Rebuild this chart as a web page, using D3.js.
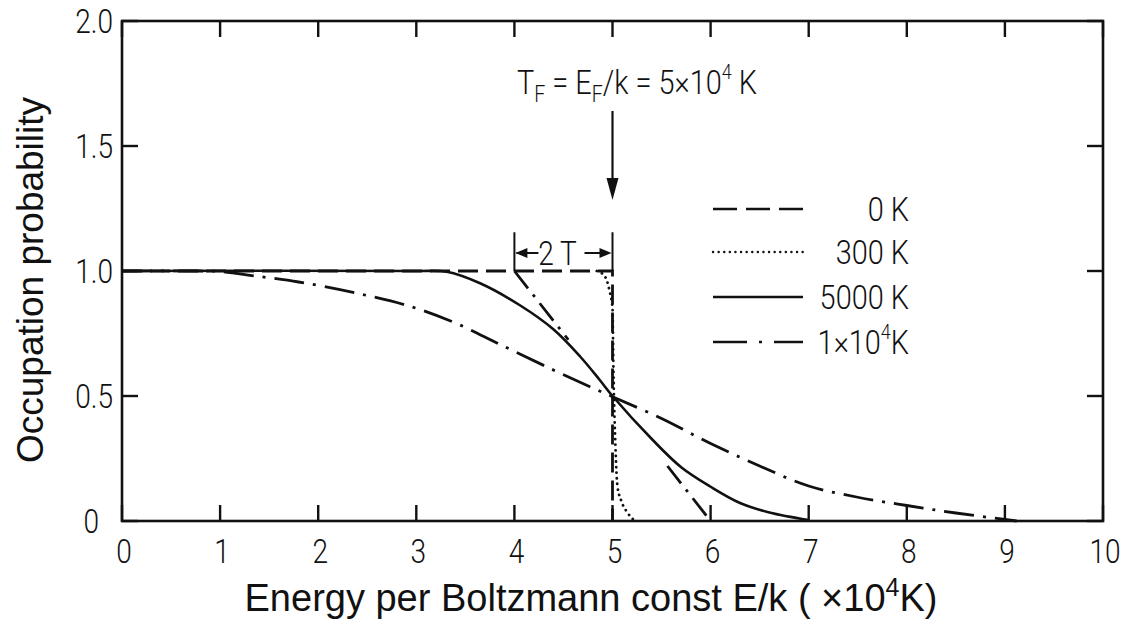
<!DOCTYPE html>
<html><head><meta charset="utf-8">
<script src="https://cdn.jsdelivr.net/npm/d3@7"></script>
<style>
body{margin:0;background:#fff;}
svg{display:block;}
.din{font-family:Roboto,"DejaVu Sans",sans-serif;font-weight:300;fill:#111;}
</style></head>
<body><svg id="c" width="1126" height="627"></svg>
<script>
// ---- data ----
const xTicks = [0,1,2,3,4,5,6,7,8,9,10];
const xTickLabels = ["0","1","2","3","4","5","6","7","8","9","10"];
const yTicks = [0,0.5,1.0,1.5,2.0];
const yTickLabels = ["0","0.5","1.0","1.5","2.0"];
const seriesNames = ["0 K","300 K","5000 K","1×10⁴K"];
const curve0K = [[0,1],[5,1],[5,0]];
const curve300K = [[4.84,1.0],[4.92,0.98],[4.97,0.92],[5.0,0.85],[5.01,0.6],[5.03,0.3],[5.05,0.14],[5.09,0.08],[5.15,0.035],[5.23,0.0]];
const curve5000K = [[0,1],[3.0,1.0],[3.31,0.997],[3.65,0.951],[4.06,0.862],[4.40,0.766],[4.67,0.658],[4.87,0.564],[5.0,0.5],[5.41,0.324],[5.7,0.215],[6.0,0.137],[6.3,0.072],[6.6,0.034],[7.0,0.004]];
const curve1e4K = [[0,1],[0.8,1.0],[1.0,0.998],[1.36,0.98],[1.8,0.956],[2.37,0.913],[2.95,0.857],[3.41,0.79],[3.85,0.707],[4.36,0.611],[4.77,0.537],[5.0,0.497],[5.5,0.41],[6.0,0.31],[6.5,0.22],[7.0,0.14],[7.5,0.095],[8.0,0.062],[8.5,0.032],[9.12,0.0]];
const tangentUpper = [[4.0,1.0],[4.55,0.725]];
const tangentLower = [[5.56,0.22],[6.0,0.0]];
// annotation anchors (data units)
const fermiE = 5;
const arrowTop = 1.64, arrowTip = 1.284;
const bracketLeft = 4, bracketRight = 5, bracketTop = 1.155, bracketArrowY = 1.072;

const svg = d3.select("#c");
const x = d3.scaleLinear().domain([0,10]).range([122,1103]);
const y = d3.scaleLinear().domain([0,2]).range([521,21]);
const ink = "#111";
const SX = 0.85; // narrow DIN-like lettering

// frame
svg.append("rect").attr("x",x(0)).attr("y",y(2)).attr("width",x(10)-x(0)).attr("height",y(0)-y(2))
  .attr("fill","none").attr("stroke",ink).attr("stroke-width",2.6);

// inward ticks on all four sides
const tk = svg.append("g");
function tick(x1,y1,x2,y2){
  tk.append("line").attr("x1",x1).attr("y1",y1).attr("x2",x2).attr("y2",y2)
    .attr("stroke",ink).attr("stroke-width",2.4);
}
xTicks.forEach(d=>{
  tick(x(d),y(0),x(d),y(0)-16);
  tick(x(d),y(2),x(d),y(2)+16);
});
yTicks.forEach(d=>{
  tick(x(0),y(d),x(0)+16,y(d));
  tick(x(10),y(d),x(10)-16,y(d));
});
// tick labels
xTicks.forEach((d,i)=>{
  svg.append("text").attr("class","din").attr("font-size",33).attr("text-anchor","middle")
    .attr("transform",`translate(${x(d)+2},${y(0)+42}) scale(${SX},1)`).text(xTickLabels[i]);
});
yTicks.forEach((d,i)=>{
  const xr = d===0 ? x(0)-23 : x(0)-9;
  svg.append("text").attr("class","din").attr("font-size",33).attr("text-anchor","end")
    .attr("transform",`translate(${xr},${y(d)+12}) scale(${SX},1)`).text(yTickLabels[i]);
});

const lineL = d3.line().x(d=>x(d[0])).y(d=>y(d[1]));
const lineC = d3.line().x(d=>x(d[0])).y(d=>y(d[1])).curve(d3.curveCatmullRom.alpha(0.5));
const lineM = d3.line().x(d=>x(d[0])).y(d=>y(d[1])).curve(d3.curveMonotoneX);
const plot = svg.append("g").attr("fill","none").attr("stroke",ink);

plot.append("path").attr("d",lineL(curve0K)).attr("stroke-width",2.8).attr("stroke-dasharray","20,8");
plot.append("path").attr("d",lineM(curve300K)).attr("stroke-width",2.8).attr("stroke-linecap","round").attr("stroke-dasharray","0.1,5.5");
plot.append("path").attr("d",lineC(curve5000K)).attr("stroke-width",2.6);
plot.append("path").attr("d",lineC(curve1e4K)).attr("stroke-width",2.8).attr("stroke-dasharray","30,9,3,9");
plot.append("path").attr("d",lineL(tangentUpper)).attr("stroke-width",2.8).attr("stroke-dasharray","22,8,3,8");
plot.append("path").attr("d",lineL(tangentLower)).attr("stroke-width",2.8).attr("stroke-dasharray","22,8,3,8");

// Fermi arrow + label
const ann = svg.append("g");
ann.append("line").attr("x1",x(fermiE)).attr("x2",x(fermiE)).attr("y1",y(arrowTop)).attr("y2",y(arrowTip)-18)
  .attr("stroke",ink).attr("stroke-width",2.2);
ann.append("path").attr("d",`M${x(fermiE)},${y(arrowTip)} l-6,-22 l12,0 z`).attr("fill",ink);
const tf = ann.append("text").attr("class","din").attr("font-size",34)
  .attr("transform",`translate(517,94) scale(${SX},1)`);
tf.append("tspan").text("T");
tf.append("tspan").attr("font-size",23).attr("dy",8).text("F");
tf.append("tspan").attr("dy",-8).text(" = E");
tf.append("tspan").attr("font-size",23).attr("dy",8).text("F");
tf.append("tspan").attr("dy",-8).text("/k = 5×10");
tf.append("tspan").attr("font-size",21).attr("dy",-15).text("4");
tf.append("tspan").attr("dy",15).text(" K");

// 2T bracket
[bracketLeft,bracketRight].forEach(v=>{
  ann.append("line").attr("x1",x(v)).attr("x2",x(v)).attr("y1",y(bracketTop)).attr("y2",y(1)).attr("stroke",ink).attr("stroke-width",2);
});
const by = y(bracketArrowY);
ann.append("line").attr("x1",x(bracketLeft)+2).attr("x2",x(bracketLeft)+24).attr("y1",by).attr("y2",by).attr("stroke",ink).attr("stroke-width",2);
ann.append("path").attr("d",`M${x(bracketLeft)+1},${by} l12,-5 l0,10 z`).attr("fill",ink);
ann.append("line").attr("x1",x(bracketRight)-28).attr("x2",x(bracketRight)-4).attr("y1",by).attr("y2",by).attr("stroke",ink).attr("stroke-width",2);
ann.append("path").attr("d",`M${x(bracketRight)-1},${by} l-12,-5 l0,10 z`).attr("fill",ink);
ann.append("text").attr("class","din").attr("font-size",33).attr("text-anchor","middle")
  .attr("transform",`translate(${(x(bracketLeft)+x(bracketRight))/2-6},${by+12}) scale(${SX},1)`).text("2 T");

// legend
const legY = [209,252,297,342];
const legDash = ["24,9", "0.1,5.5", null, "34,12,3,12"];
const leg = svg.append("g");
seriesNames.forEach((n,i)=>{
  const l = leg.append("line").attr("x1",713).attr("x2",803).attr("y1",legY[i]).attr("y2",legY[i])
    .attr("stroke",ink).attr("stroke-width",2.6);
  if(legDash[i]) l.attr("stroke-dasharray",legDash[i]);
  if(i===1) l.attr("stroke-linecap","round").attr("stroke-width",2.4);
  const t = leg.append("text").attr("class","din").attr("font-size",34).attr("text-anchor","end")
    .attr("transform",`translate(909,${legY[i]+12}) scale(${SX},1)`);
  if(i===3){
    t.append("tspan").text("1×10");
    t.append("tspan").attr("font-size",21).attr("dy",-15).text("4");
    t.append("tspan").attr("dy",15).text("K");
  } else t.text(n);
});

// axis titles
svg.append("text").attr("x",591).attr("y",611).attr("text-anchor","middle")
  .attr("font-family","'Liberation Sans', Arial, sans-serif").attr("font-size",38).attr("fill",ink)
  .call(t=>{
    t.append("tspan").text("Energy per Boltzmann const E/k ( ×10");
    t.append("tspan").attr("font-size",25).attr("dy",-15).text("4");
    t.append("tspan").attr("dy",15).text("K)");
  });
svg.append("text").attr("transform","translate(43,280) rotate(-90)").attr("text-anchor","middle")
  .attr("font-family","'Liberation Sans', Arial, sans-serif").attr("font-size",37).attr("fill",ink)
  .text("Occupation probability");
</script></body></html>
